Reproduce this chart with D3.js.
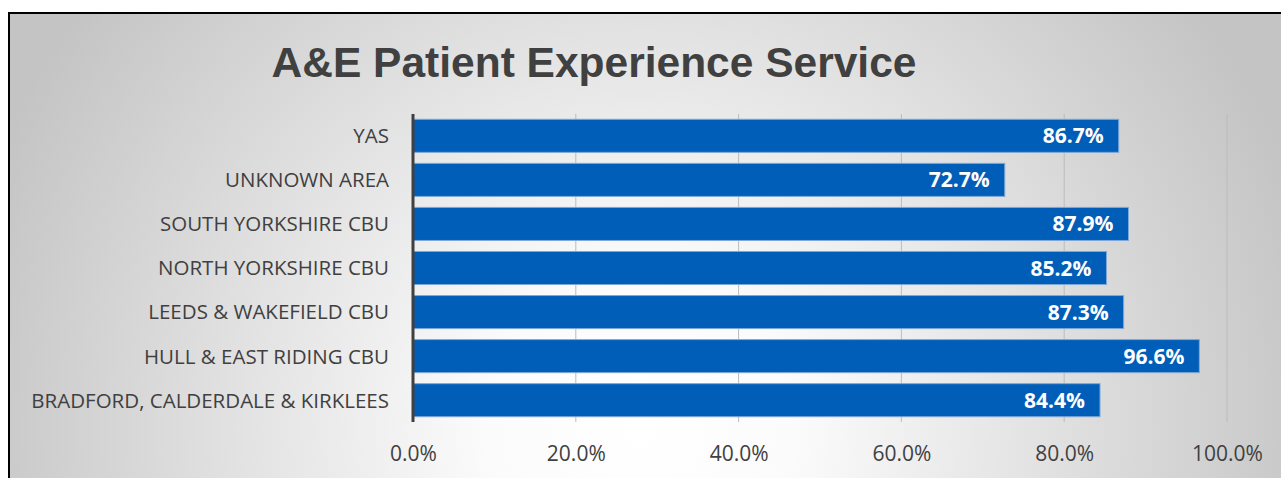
<!DOCTYPE html>
<html lang="en">
<head>
    <meta charset="UTF-8">
    <script src="https://d3js.org/d3.v7.min.js"></script>
    <title>A&amp;E Patient Experience Service</title>
    <style>
        html, body {
            margin: 0;
            padding: 0;
            background: #fff;
            overflow: hidden;
        }
        .cat text {
            font-family: "Open Sans", sans-serif;
            font-size: 20.5px;
            fill: #404040;
        }
        .tick text {
            font-family: "Open Sans", sans-serif;
            font-size: 20.5px;
            fill: #404040;
        }
        .xax text {
            font-size: 21px;
        }
        .val {
            font-family: "Open Sans", sans-serif;
            font-weight: bold;
            font-size: 21px;
            fill: #fff;
        }
        .title {
            font-family: "Liberation Sans", Arial, sans-serif;
            font-weight: bold;
            font-size: 42.5px;
            fill: #404040;
        }
    </style>
</head>
<body>
<script>
    // data
    const categories = [
        "YAS",
        "UNKNOWN AREA",
        "SOUTH YORKSHIRE CBU",
        "NORTH YORKSHIRE CBU",
        "LEEDS & WAKEFIELD CBU",
        "HULL & EAST RIDING CBU",
        "BRADFORD, CALDERDALE & KIRKLEES"
    ];
    const values = [0.867, 0.727, 0.879, 0.852, 0.873, 0.966, 0.844];
    const ticks = [0, 0.2, 0.4, 0.6, 0.8, 1.0];

    const width = 1281;
    const height = 478;

    const svg = d3.select('body')
        .append('svg')
        .attr('width', width)
        .attr('height', height);

    // background gradient
    const defs = svg.append('defs');
    const grad = defs.append('radialGradient')
        .attr('id', 'bg')
        .attr('gradientUnits', 'userSpaceOnUse')
        .attr('cx', 640).attr('cy', 430).attr('r', 700);
    grad.append('stop').attr('offset', '0%').attr('stop-color', '#ffffff');
    grad.append('stop').attr('offset', '22%').attr('stop-color', '#fbfbfb');
    grad.append('stop').attr('offset', '100%').attr('stop-color', '#c4c4c4');

    svg.append('rect')
        .attr('x', 9).attr('y', 13)
        .attr('width', width).attr('height', height)
        .attr('fill', 'url(#bg)');

    // frame
    svg.append('line')
        .attr('x1', 8).attr('x2', width).attr('y1', 13).attr('y2', 13)
        .attr('stroke', '#000').attr('stroke-width', 2);
    svg.append('line')
        .attr('x1', 9).attr('x2', 9).attr('y1', 12).attr('y2', height)
        .attr('stroke', '#000').attr('stroke-width', 2);

    const x = d3.scaleLinear()
        .domain([0, 1])
        .range([413, 1227]);

    const y = d3.scaleBand()
        .domain(categories)
        .range([114, 422])
        .paddingInner(0.25)
        .paddingOuter(0.12);

    // gridlines
    svg.append('g')
        .selectAll('line')
        .data(ticks.slice(1))
        .join('line')
        .attr('x1', d => x(d)).attr('x2', d => x(d))
        .attr('y1', 114).attr('y2', 422)
        .attr('stroke', '#bcbcbc')
        .attr('stroke-width', 1);

    // bars
    svg.append('g')
        .selectAll('rect')
        .data(values)
        .join('rect')
        .attr('x', x(0))
        .attr('y', (d, i) => y(categories[i]))
        .attr('width', d => x(d) - x(0))
        .attr('height', y.bandwidth())
        .attr('fill', '#005eb8')
        .attr('stroke', '#7fa8d6')
        .attr('stroke-width', 1);

    // value labels
    svg.append('g')
        .selectAll('text')
        .data(values)
        .join('text')
        .attr('class', 'val')
        .attr('x', d => x(d) - 15)
        .attr('y', (d, i) => y(categories[i]) + y.bandwidth() / 2)
        .attr('dy', '0.36em')
        .attr('text-anchor', 'end')
        .text(d => d3.format('.1%')(d));

    // category axis
    const yAxis = svg.append('g')
        .attr('class', 'cat')
        .attr('transform', `translate(${x(0)},0)`)
        .call(d3.axisLeft(y).tickSize(0).tickPadding(24));
    yAxis.select('.domain').remove();
    yAxis.selectAll('text').attr('dy', '0.36em');

    svg.append('line')
        .attr('x1', x(0)).attr('x2', x(0))
        .attr('y1', 114).attr('y2', 422)
        .attr('stroke', '#404040')
        .attr('stroke-width', 3);

    // value axis labels
    const xAxis = svg.append('g')
        .attr('class', 'xax')
        .attr('transform', `translate(0,${453})`)
        .call(d3.axisBottom(x).tickValues(ticks).tickFormat(d3.format('.1%')).tickSize(0).tickPadding(0));
    xAxis.select('.domain').remove();
    xAxis.selectAll('text').attr('dy', '0.36em').attr('y', 0);

    // title
    svg.append('text')
        .attr('class', 'title')
        .attr('x', 594)
        .attr('y', 77)
        .attr('text-anchor', 'middle')
        .text('A&E Patient Experience Service');
</script>
</body>
</html>
